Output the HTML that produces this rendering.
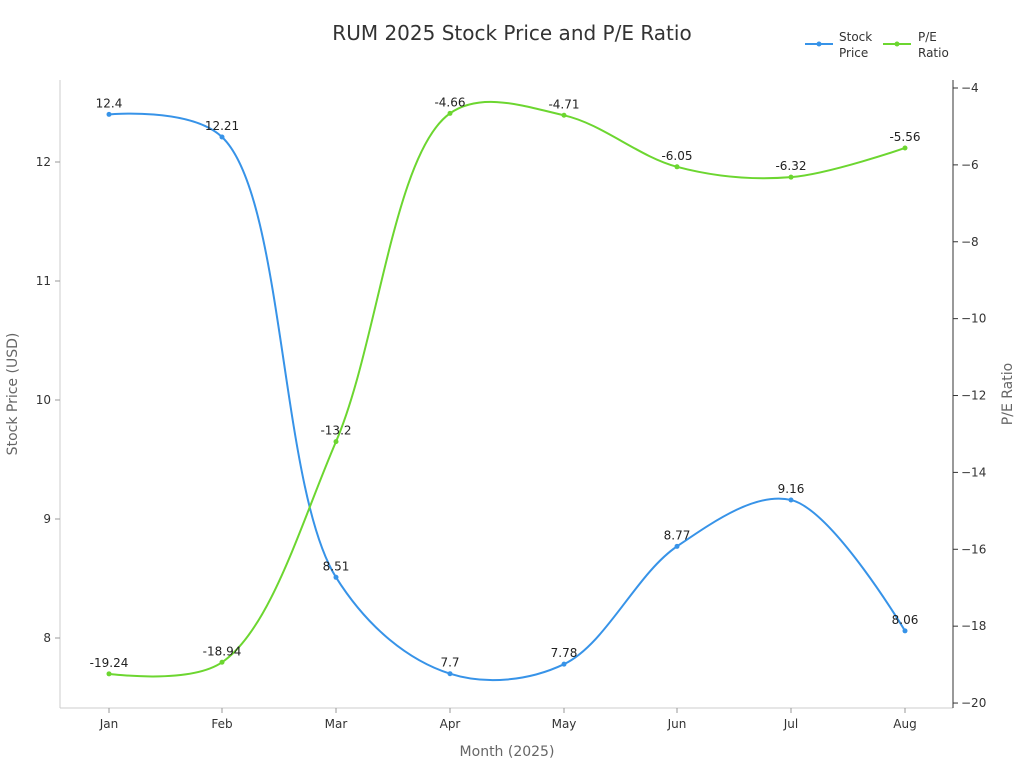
<!DOCTYPE html>
<html><head><meta charset="utf-8"><style>
body{margin:0;background:#fff}
svg{display:block;font-family:"DejaVu Sans","Liberation Sans",sans-serif}
</style></head><body>
<svg id="c" width="1024" height="768" xmlns="http://www.w3.org/2000/svg">
<text x="512" y="40" text-anchor="middle" font-size="20" fill="#333">RUM 2025 Stock Price and P/E Ratio</text>
<line x1="60" y1="80" x2="60" y2="708" stroke="#ccc"/>
<line x1="60" y1="708" x2="953" y2="708" stroke="#ccc"/>
<line x1="953" y1="80" x2="953" y2="708" stroke="#333"/>
<text transform="translate(17,394) rotate(-90)" text-anchor="middle" font-size="14" fill="#666">Stock Price (USD)</text>
<text transform="translate(1012,394) rotate(-90)" text-anchor="middle" font-size="14" fill="#666">P/E Ratio</text>
<text x="507" y="756" text-anchor="middle" font-size="14" fill="#666">Month (2025)</text>
<line x1="805" y1="44" x2="833" y2="44" stroke="#3793e8" stroke-width="2"/><circle cx="819" cy="44" r="2.5" fill="#3793e8"/>
<text font-size="12" fill="#333"><tspan x="839" y="41">Stock</tspan><tspan x="839" y="57">Price</tspan></text>
<line x1="883" y1="44" x2="911" y2="44" stroke="#6cd630" stroke-width="2"/><circle cx="897" cy="44" r="2.5" fill="#6cd630"/>
<text font-size="12" fill="#333"><tspan x="918" y="41">P/E</tspan><tspan x="918" y="57">Ratio</tspan></text>
<g id="g"></g>
</svg>
<script>
var g=document.getElementById('g'),h='';
var X=[109,222,336,450,564,677,791,905],M=['Jan','Feb','Mar','Apr','May','Jun','Jul','Aug'];
var S=[12.4,12.21,8.51,7.7,7.78,8.77,9.16,8.06],P=[-19.24,-18.94,-13.2,-4.66,-4.71,-6.05,-6.32,-5.56];
function ys(v){return 162+(12-v)*119}function yp(v){return 88+(-4-v)*38.44}
for(var v=8;v<=12;v++){var y=ys(v);h+='<line x1="55" x2="60" y1="'+y+'" y2="'+y+'" stroke="#999"/><text x="51" y="'+(y+4)+'" text-anchor="end" font-size="12" fill="#333">'+v+'</text>';}
for(var v=-4;v>=-20;v-=2){var y=yp(v);h+='<line x1="953" x2="958" y1="'+y+'" y2="'+y+'" stroke="#333"/><text x="961" y="'+(y+4)+'" font-size="12" fill="#333">\u2212'+(-v)+'</text>';}
X.forEach(function(x,i){h+='<line x1="'+x+'" x2="'+x+'" y1="708" y2="713" stroke="#999"/><text x="'+x+'" y="728" text-anchor="middle" font-size="12" fill="#333">'+M[i]+'</text>';});
var AL=0.5;
function L(a,b){var d2=(a[0]-b[0])*(a[0]-b[0])+(a[1]-b[1])*(a[1]-b[1]);var l2a=Math.pow(d2,AL);return[Math.sqrt(l2a),l2a];}
function path(pts){var n=pts.length,d='M'+pts[0][0]+','+pts[0][1];
for(var i=0;i<n-1;i++){var p0=pts[Math.max(i-1,0)],p1=pts[i],p2=pts[i+1],p3=pts[Math.min(i+2,n-1)];
var l01=L(p0,p1),l12=L(p1,p2),l23=L(p2,p3);var c1=[p1[0],p1[1]],c2=[p2[0],p2[1]];
if(l01[0]>1e-9){var a=2*l01[1]+3*l01[0]*l12[0]+l12[1],nn=3*l01[0]*(l01[0]+l12[0]);
for(var k=0;k<2;k++)c1[k]=(p1[k]*a-p0[k]*l12[1]+p2[k]*l01[1])/nn;}
if(l23[0]>1e-9){var b=2*l23[1]+3*l23[0]*l12[0]+l12[1],m=3*l23[0]*(l23[0]+l12[0]);
for(var k=0;k<2;k++)c2[k]=(p2[k]*b+p1[k]*l23[1]-p3[k]*l12[1])/m;}
d+=' C'+c1[0]+','+c1[1]+' '+c2[0]+','+c2[1]+' '+p2[0]+','+p2[1];}return d;}
function series(vals,f,c){var pts=vals.map(function(v,i){return[X[i],f(v)]});h+='<path d="'+path(pts)+'" fill="none" stroke="'+c+'" stroke-width="2"/>';
pts.forEach(function(p,i){h+='<circle cx="'+p[0]+'" cy="'+p[1]+'" r="2.5" fill="'+c+'"/><text x="'+p[0]+'" y="'+(p[1]-7)+'" text-anchor="middle" font-size="12" fill="#222">'+vals[i]+'</text>';});}
series(S,ys,'#3793e8');series(P,yp,'#6cd630');
g.innerHTML=h;
</script>
</body></html>
